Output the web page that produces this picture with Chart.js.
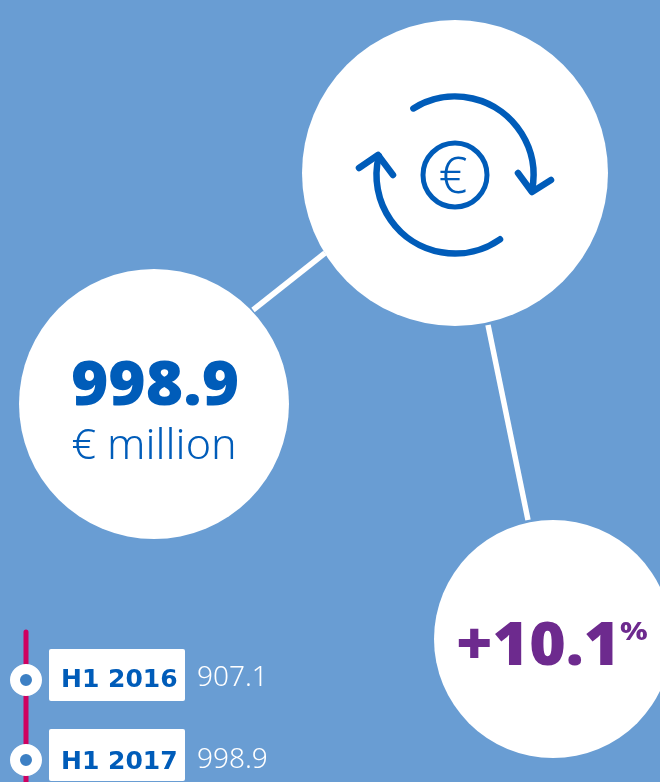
<!DOCTYPE html>
<html>
<head>
<meta charset="utf-8">
<title>Net fee income</title>
<script src="https://cdn.jsdelivr.net/npm/chart.js@4"></script>
<style>
    html, body { margin: 0; padding: 0; background: #699dd3; overflow: hidden; }
    canvas { display: block; }
</style>
</head>
<body>
<canvas id="graphic" width="660" height="782"></canvas>
<script>
// values
const periods = ['H1 2016', 'H1 2017'];
const amounts = [907.1, 998.9];
const changeText = '+10.1';
const changeUnit = '%';
const amountUnit = '€ million';

// layout of the infographic, in page pixels
const hub = { x: 455, y: 173, r: 153 };
const valueCircle = { x: 154, y: 404, r: 135 };
const changeCircle = { x: 553, y: 639, r: 119 };
const links = [
    [{ x: 253, y: 310 }, { x: 325, y: 253 }],
    [{ x: 488, y: 325 }, { x: 528, y: 520 }]
];
const railX = 26;

const BLUE = '#005cb9';
const PURPLE = '#6d2a8e';
const LIGHT = '300 43px "Noto Sans"';

function text(ctx, str, x, y, font, color, align, stretch) {
    ctx.save();
    ctx.font = font;
    ctx.fillStyle = color;
    ctx.textAlign = align || 'left';
    ctx.textBaseline = 'alphabetic';
    ctx.translate(x, y);
    ctx.scale(stretch || 1, 1);
    ctx.fillText(str, 0, 0);
    ctx.restore();
}

function arrow(ctx, cx, cy, from, to, head) {
    ctx.beginPath();
    ctx.arc(cx, cy, 78.5, from * Math.PI / 180, to * Math.PI / 180);
    ctx.stroke();
    ctx.beginPath();
    ctx.moveTo(head[0], head[1]);
    ctx.lineTo(head[2], head[3]);
    ctx.lineTo(head[4], head[5]);
    ctx.stroke();
}

const artwork = {
    id: 'artwork',
    afterDatasetsDraw(chart) {
        const ctx = chart.ctx;
        const rowY = chart.scales.timeline;
        const cx = hub.x, cy = hub.y + 2;

        // money cycle icon
        ctx.save();
        ctx.strokeStyle = BLUE;
        ctx.lineCap = 'round';
        ctx.lineJoin = 'round';
        ctx.lineWidth = 6.5;
        arrow(ctx, cx, cy, 238, 371, [518, 173, 532, 192, 551, 180]);
        arrow(ctx, cx, cy, 55, 194, [359, 168, 378, 155, 393, 175]);
        ctx.lineWidth = 5;
        ctx.beginPath();
        ctx.arc(cx, cy, 32, 0, Math.PI * 2);
        ctx.stroke();
        ctx.restore();
        text(ctx, '€', cx - 2, cy + 18, '300 50px "Noto Sans"', BLUE, 'center');

        text(ctx, String(amounts[1]), 155, 405, '900 62px "Noto Sans"', BLUE, 'center', 1.03);
        text(ctx, amountUnit, 154, 459, LIGHT, BLUE, 'center');

        text(ctx, changeText, 456, 665, '900 60px "Noto Sans"', PURPLE, 'left', 1.04);
        text(ctx, changeUnit, 620, 640, '800 25px "Noto Sans"', PURPLE, 'left', 1.2);

        // timeline rows, the captions sit a little lower on each row
        periods.forEach((p, i) => {
            const y = rowY.getPixelForValue(i);
            ctx.fillStyle = '#ffffff';
            ctx.beginPath();
            ctx.roundRect(49, y - 31, 136, 52, 2);
            ctx.fill();
            text(ctx, p, 61, y + 7 + i * 2, 'bold 25px "DejaVu Sans"', BLUE);
            text(ctx, String(amounts[i]), 197, y + 6 + i * 2, '300 28px "Noto Sans"', '#ffffff');
        });
    }
};

new Chart(document.getElementById('graphic'), {
    data: {
        datasets: [
            {
                type: 'scatter',
                data: periods.map((p, i) => ({ x: railX, y: i })),
                yAxisID: 'timeline',
                pointRadius: 11,
                pointBackgroundColor: '#3d80c4',
                pointBorderColor: '#ffffff',
                pointBorderWidth: 10
            },
            {
                type: 'scatter',
                data: [{ x: railX, y: -0.6 }, { x: railX, y: 1.4 }],
                yAxisID: 'timeline',
                showLine: true,
                borderColor: '#cf0060',
                borderWidth: 5,
                borderCapStyle: 'round',
                pointRadius: 0
            },
            {
                type: 'bubble',
                data: [hub, valueCircle, changeCircle],
                yAxisID: 'y',
                backgroundColor: '#ffffff',
                borderWidth: 0
            },
            ...links.map(l => ({
                type: 'scatter',
                data: l,
                yAxisID: 'y',
                showLine: true,
                borderColor: '#ffffff',
                borderWidth: 5.5,
                pointRadius: 0
            }))
        ]
    },
    options: {
        responsive: false,
        animation: false,
        events: [],
        layout: { padding: 0, autoPadding: false },
        plugins: { legend: { display: false }, tooltip: { enabled: false } },
        scales: {
            x: { type: 'linear', display: false, min: 0, max: 660 },
            y: { type: 'linear', display: false, min: 0, max: 782, reverse: true },
            timeline: { type: 'linear', display: false, min: -8.5, max: 1.275, reverse: true }
        }
    },
    plugins: [artwork]
});
</script>
</body>
</html>
